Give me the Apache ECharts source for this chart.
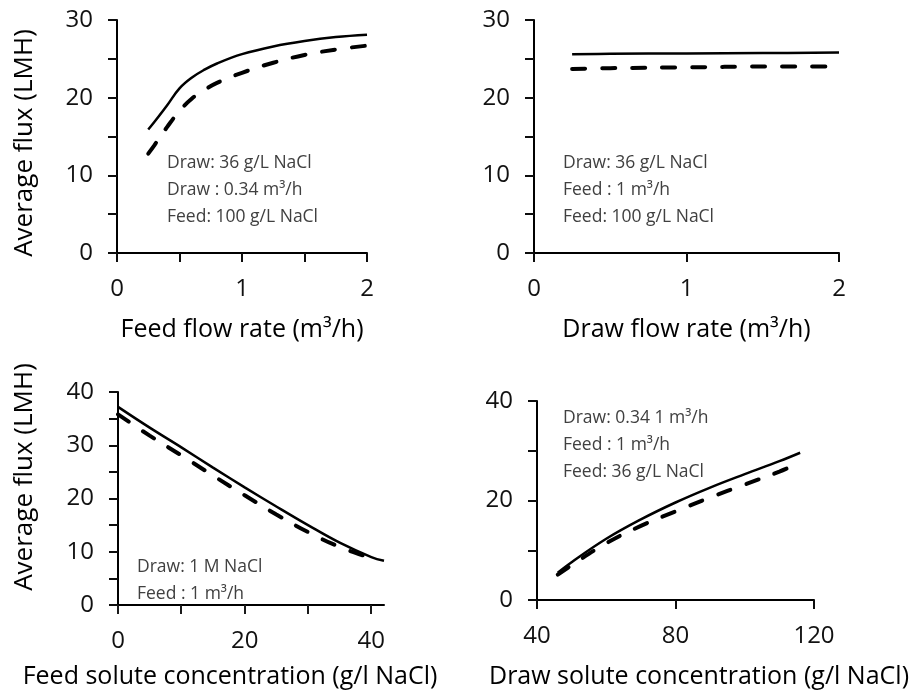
<!DOCTYPE html>
<html>
<head>
<meta charset="utf-8">
<script src="https://cdn.jsdelivr.net/npm/echarts@6/dist/echarts.min.js"></script>
<style>
  html, body { margin: 0; padding: 0; background: #fff; }
  #chart { width: 921px; height: 693px; }
</style>
</head>
<body>
<div id="chart"></div>
<script>
// panel 1: feed flow rate
var feedFlow = [0.25, 0.3, 0.4, 0.5, 0.6, 0.7, 0.8, 1.0, 1.25, 1.5, 1.75, 2.0];
var feedFlowSolid = [15.9, 16.9, 19.0, 21.2, 22.6, 23.6, 24.4, 25.6, 26.6, 27.3, 27.8, 28.1];
var feedFlowDash = [12.8, 13.9, 16.2, 18.3, 19.9, 21.0, 21.9, 23.2, 24.5, 25.5, 26.2, 26.7];

// panel 2: draw flow rate
var drawFlow = [0.25, 0.5, 1.0, 1.5, 2.0];
var drawFlowSolid = [25.6, 25.65, 25.7, 25.75, 25.8];
var drawFlowDash = [23.7, 23.8, 23.9, 24.0, 24.0];

// panel 3: feed solute concentration
var feedConc = [0, 5, 10, 15, 20, 25, 30, 35, 40, 42];
var feedConcSolid = [37.2, 33.3, 29.6, 25.8, 22.1, 18.5, 15.0, 11.7, 9.0, 8.3];
var feedConcDashX = [0, 5, 10, 15, 20, 25, 30, 35, 40, 41];
var feedConcDash = [35.8, 31.8, 28.1, 24.3, 20.6, 17.0, 13.7, 10.9, 8.8, 8.5];

// panel 4: draw solute concentration
var drawConc = [46, 50, 60, 70, 80, 90, 100, 110, 116];
var drawConcSolid = [5.5, 7.6, 12.3, 16.2, 19.6, 22.6, 25.3, 27.9, 29.6];
var drawConcDash = [5.1, 7.0, 11.4, 14.9, 17.8, 20.6, 23.2, 25.8, 27.6];

// tick labels
var flowLabels = [0, 1, 2];
var flux30Labels = [0, 10, 20, 30];
var flux40Labels = [0, 10, 20, 30, 40];
var feedConcLabels = [0, 20, 40];
var drawConcLabels = [40, 80, 120];
var drawFluxLabels = [0, 20, 40];

// tick marks
var feedFlowTicks = [0, 0.5, 1, 1.5, 2];
var drawFlowTicks = [0, 1, 2];
var flux30Ticks = [0, 5, 10, 15, 20, 25, 30];
var flux40Ticks = [0, 5, 10, 15, 20, 25, 30, 35, 40];
var feedConcTicks = [0, 10, 20, 30, 40];
var drawConcTicks = [40, 80, 120];
var drawFluxTicks = [0, 10, 20, 30, 40];

var font = 'Open Sans';

function pairs(xs, ys) {
    return xs.map(function (x, i) { return [x, ys[i]]; });
}

// tick colour kept a hair off the axis-line black so the canvas style is always re-set
function axis(idx, min, max, interval, labels) {
    return {
        type: 'value', gridIndex: idx, min: min, max: max, interval: interval,
        splitLine: { show: false },
        axisLine: { show: true, onZero: false, lineStyle: { color: '#000', width: 2 } },
        axisTick: { show: true, length: 9, lineStyle: { color: '#0d0d0d', width: 2 } },
        axisLabel: { customValues: labels, margin: 24, fontFamily: font, fontSize: 24, color: '#111' }
    };
}

function named(ax, name, gap) {
    ax.name = name;
    ax.nameLocation = 'middle';
    ax.nameGap = gap;
    ax.nameTextStyle = { fontFamily: font, fontSize: 25, color: '#000' };
    return ax;
}

function solid(idx, data) {
    return {
        type: 'line', xAxisIndex: idx, yAxisIndex: idx, data: data, smooth: 0.4,
        showSymbol: false, silent: true,
        lineStyle: { color: '#000', width: 2.5 }
    };
}

function dashed(idx, data) {
    return {
        type: 'line', xAxisIndex: idx, yAxisIndex: idx, data: data, smooth: 0.4,
        showSymbol: false, silent: true,
        lineStyle: { color: '#000', width: 4, type: [13, 17], cap: 'round' }
    };
}

// outward tick marks placed through the axes' scales (backup for the axis ticks)
function ticks(idx, values, other, dir) {
    return {
        type: 'custom', xAxisIndex: idx, yAxisIndex: idx, silent: true, clip: false, z: 5,
        data: values.map(function (v) { return dir === 'x' ? [v, other] : [other, v]; }),
        renderItem: function (params, api) {
            var p = api.coord([api.value(0), api.value(1)]);
            var x = Math.round(p[0]), y = Math.round(p[1]);
            var shape = dir === 'x'
                ? { x1: x, y1: y, x2: x, y2: y + 9 }
                : { x1: x - 9, y1: y, x2: x, y2: y };
            return {
                type: 'line', shape: shape,
                style: { stroke: '#1a1a1a', lineWidth: 2, lineDash: null, opacity: 1 }
            };
        }
    };
}

function note(x, y, lines) {
    return lines.map(function (t, i) {
        return {
            type: 'text', x: x, y: y + i * 27, silent: true,
            style: { text: t, fontFamily: font, fontSize: 17.5, fill: '#404040', textVerticalAlign: 'middle' }
        };
    });
}

function title(text, x, y, rot, size) {
    return {
        type: 'text', x: x, y: y, rotation: rot, silent: true,
        style: { text: text, fontFamily: font, fontSize: size, fill: '#000', textAlign: 'center', textVerticalAlign: 'middle' }
    };
}

var chart = echarts.init(document.getElementById('chart'));

var option = {
    animation: false,
    grid: [
        { left: 117, top: 20, width: 250, height: 233 },
        { left: 534, top: 20, width: 305, height: 233 },
        { left: 118, top: 392, width: 266, height: 213 },
        { left: 537, top: 401, width: 277, height: 199 }
    ],
    xAxis: [
        named(axis(0, 0, 2, 0.5, flowLabels), 'Feed flow rate (m\u00b3/h)', 64),
        named(axis(1, 0, 2, 1, flowLabels), 'Draw flow rate (m\u00b3/h)', 64),
        axis(2, 0, 42, 20, feedConcLabels),
        axis(3, 40, 120, 40, drawConcLabels)
    ],
    yAxis: [
        axis(0, 0, 30, 5, flux30Labels),
        axis(1, 0, 30, 5, flux30Labels),
        axis(2, 0, 40, 5, flux40Labels),
        axis(3, 0, 40, 10, drawFluxLabels)
    ],
    series: [
        solid(0, pairs(feedFlow, feedFlowSolid)),
        dashed(0, pairs(feedFlow, feedFlowDash)),
        solid(1, pairs(drawFlow, drawFlowSolid)),
        dashed(1, pairs(drawFlow, drawFlowDash)),
        solid(2, pairs(feedConc, feedConcSolid)),
        dashed(2, pairs(feedConcDashX, feedConcDash)),
        solid(3, pairs(drawConc, drawConcSolid)),
        dashed(3, pairs(drawConc, drawConcDash)),
        ticks(2, feedConcTicks, 0, 'x')
    ],
    graphic: [].concat(
        [
            title('Average flux (LMH)', 25, 143, Math.PI / 2, 26),
            title('Average flux (LMH)', 25, 477, Math.PI / 2, 26),
            title('Feed solute concentration (g/l NaCl)', 230, 677, 0, 25),
            title('Draw solute concentration (g/l NaCl)', 699, 677, 0, 25)
        ],
        note(167, 163, ['Draw: 36 g/L NaCl', 'Draw : 0.34 m\u00b3/h', 'Feed: 100 g/L NaCl']),
        note(563, 163, ['Draw: 36 g/L NaCl', 'Feed : 1 m\u00b3/h', 'Feed: 100 g/L NaCl']),
        note(137, 567, ['Draw: 1 M NaCl', 'Feed : 1 m\u00b3/h']),
        note(563, 418, ['Draw: 0.34 1 m\u00b3/h', 'Feed : 1 m\u00b3/h', 'Feed: 36 g/L NaCl'])
    )
};

// panel 3 x axis: its line runs to 42 but ticks stop at 40, so its own ticks are off
option.xAxis[2].axisTick = { show: false };

chart.setOption(option);

window.onresize = function () {
    chart.resize();
};
</script>
</body>
</html>
